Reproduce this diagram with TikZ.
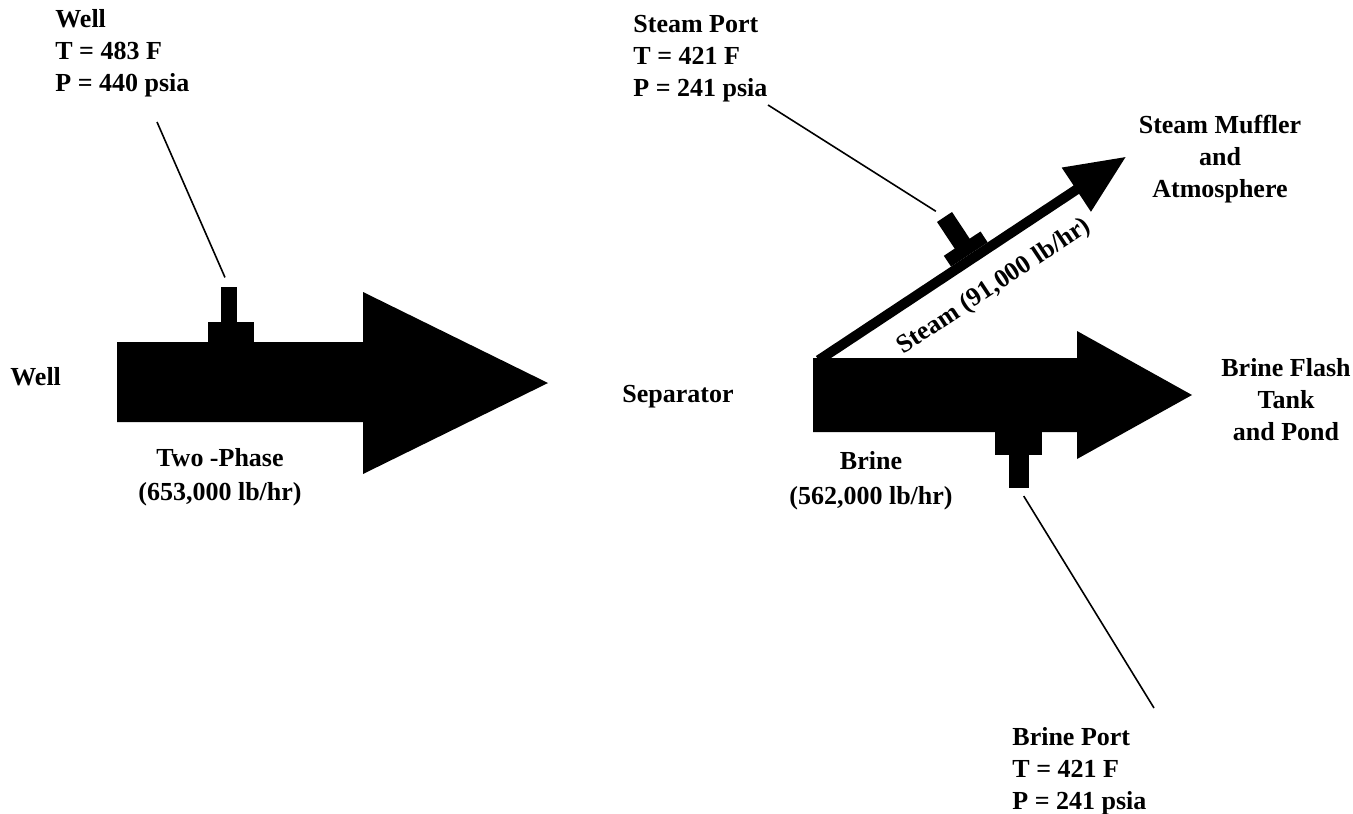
\documentclass[tikz,border=0pt]{standalone}
\usepackage{fontspec}
\setmainfont{Liberation Serif}
\usetikzlibrary{calc}

\begin{document}
\begin{tikzpicture}[x=0.5pt, y=-0.5pt, inner sep=0pt, font=\fontsize{13}{16}\selectfont\bfseries,
  port/.style={rectangle, fill=black, draw=none},
  leader/.style={line width=0.8pt}]
\useasboundingbox (0,0) rectangle (1353,813);
% Two-phase line from the well
\fill (117,342) -- (363,342) -- (363,292) -- (548,383) -- (363,474) -- (363,422) -- (117,422) -- cycle;
\node[port, minimum width=23pt, minimum height=10pt] (wellblock) at (231,332) {};
\node[port, minimum width=8pt, minimum height=17.5pt] (wellstem) at (229,304.5) {};
% Brine line
\fill (813,358) -- (1077,358) -- (1077,331) -- (1192,395) -- (1077,459) -- (1077,432) -- (813,432) -- cycle;
\node[port, minimum width=23.5pt, minimum height=11.5pt] (brineblock) at (1018.5,443.5) {};
\node[port, minimum width=10pt, minimum height=16.5pt] (brinestem) at (1019,471.5) {};
% Steam line (along its own axis)
\begin{scope}[shift={(822,358)}, rotate=33.5, y=0.5pt]
\fill (-4,-5) -- (305,-5) -- (305,-26.5) -- (364,0) -- (305,26.5) -- (305,5) -- (-4,5) -- cycle;
\node[port, minimum width=22pt, minimum height=6.5pt, rotate=33.5] (steamblock) at (180,11.5) {};
\node[port, minimum width=9pt, minimum height=16.5pt, rotate=33.5] (steamstem) at (180,33.5) {};
\node[rotate=33.5, anchor=base] (steamflow) at (183,-42) {Steam (91,000 lb/hr)};
\end{scope}
% Labels
\node[anchor=north west, align=left] (wellinfo) at (55,9) {Well\\T = 483 F\\P = 440 psia};
\node[anchor=north west, align=left] (steaminfo) at (633,15) {Steam Port\\T = 421 F\\P = 241 psia};
\node[anchor=north west, align=left] (brineinfo) at (1012,727) {Brine Port\\T = 421 F\\P = 241 psia};
\node[anchor=north, align=center] (muffler) at (1220,115) {Steam Muffler\\and\\Atmosphere};
\node[anchor=north, align=center] (flashtank) at (1286,358) {Brine Flash\\Tank\\and Pond};
\node[anchor=north, align=center] (twophase) at (220,448) {Two -Phase\\[1pt](653,000 lb/hr)};
\node[anchor=north, align=center] (brineflow) at (871,451) {Brine\\[1.5pt](562,000 lb/hr)};
\node[anchor=base west] (well) at (10,385) {Well};
\node[anchor=base west] (separator) at (622,402) {Separator};
% Leaders to the ports
\coordinate (welltop) at (157,122);
\coordinate (steamtop) at (768,105);
\coordinate (brinebottom) at (1154,708);
\draw[leader, shorten >=5pt] (welltop) -- (wellstem.north);
\draw[leader, shorten >=5pt] (steamtop) -- (steamstem.north);
\draw[leader, shorten <=4.5pt] (brinestem.south) -- (brinebottom);
\end{tikzpicture}
\end{document}
